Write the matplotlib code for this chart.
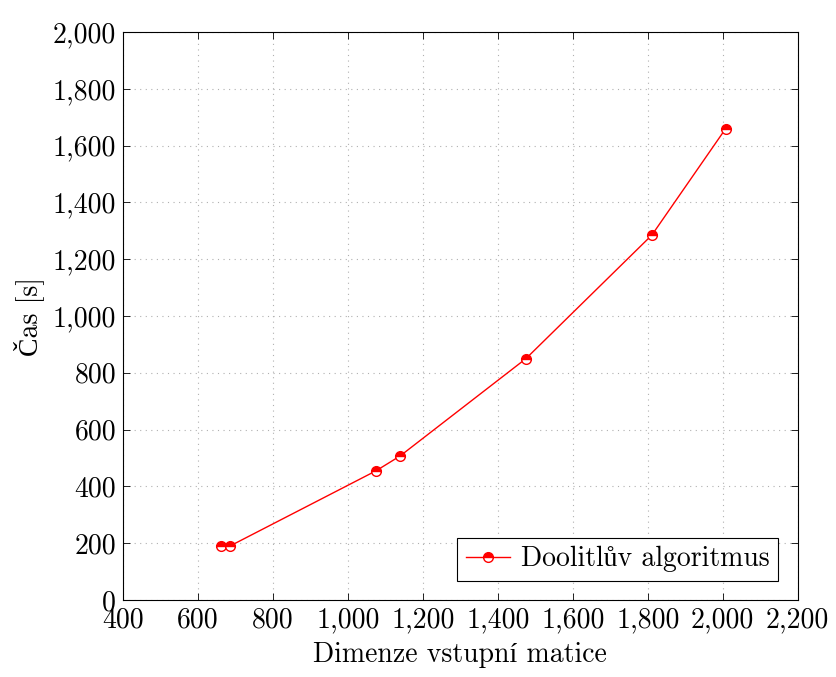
import matplotlib
matplotlib.use('Agg')
import matplotlib.pyplot as plt
from matplotlib.ticker import FuncFormatter

dimenze = [661, 685, 1075, 1139, 1475, 1811, 2008]
cas = [190, 190, 455, 507, 850, 1285, 1660]

plt.rcParams['font.family'] = ['cmr10', 'Liberation Serif']
plt.rcParams['axes.unicode_minus'] = False

fig = plt.figure(figsize=(8.37, 6.77), dpi=100)
ax = fig.add_axes([0.147, 0.1137, 0.806, 0.839])

ax.plot(dimenze, cas, color='red', linewidth=1.0, marker='o', markersize=7,
        fillstyle='top', markerfacecolor='red', markerfacecoloralt='white',
        markeredgecolor='red', markeredgewidth=1.0,
        label='Doolitlův algoritmus')

ax.set_xlim(400, 2200)
ax.set_ylim(0, 2000)
ax.set_xticks(range(400, 2201, 200))
ax.set_yticks(range(0, 2001, 200))
fmt = FuncFormatter(lambda v, p: f'{int(v):,}')
ax.xaxis.set_major_formatter(fmt)
ax.yaxis.set_major_formatter(fmt)
ax.tick_params(direction='in', top=True, right=True, labelsize=20, length=5, width=0.6, pad=5)
ax.grid(True, linestyle=(0, (1, 4)), color='#b0b0b0', linewidth=0.8)
for s in ax.spines.values():
    s.set_linewidth(0.8)

ax.set_xlabel('Dimenze vstupní matice', fontsize=20, labelpad=6)
ax.set_ylabel('Čas [s]', fontsize=20, labelpad=6)

leg = ax.legend(loc='lower right', fontsize=20, fancybox=False, edgecolor='black',
                framealpha=1, handlelength=1.6, handletextpad=0.4, borderpad=0.3,
                borderaxespad=0.7)
leg.get_frame().set_linewidth(0.8)

fig.savefig('out.png', dpi=100)
